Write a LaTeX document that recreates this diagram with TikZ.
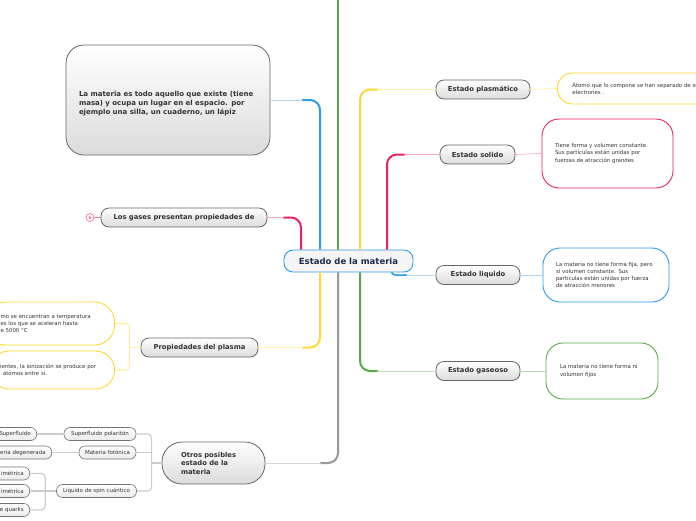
\documentclass[tikz,border=0pt]{standalone}
\usepackage{fontspec}
\setmainfont{DejaVu Sans}
\usetikzlibrary{calc}

\definecolor{cyellow}{HTML}{FFD731}
\definecolor{cpink}{HTML}{E8206A}
\definecolor{cblue}{HTML}{2D9BE6}
\definecolor{cgreen}{HTML}{55AA44}
\definecolor{cgray}{HTML}{999999}
\definecolor{navy}{HTML}{1B2A4E}
\definecolor{ink}{HTML}{333333}

\tikzset{
  topic/.style={draw=black!60, line width=0.8pt, rounded corners=8pt, top color=white, bottom color=black!14,
    text=ink, font=\bfseries\fontsize{6.8}{8}\selectfont, minimum height=19pt, inner sep=0pt},
  central/.style={draw=cblue, line width=0.9pt, rounded corners=9pt, fill=black!4, text=navy,
    font=\bfseries\fontsize{8.5}{10}\selectfont, minimum height=22pt, minimum width=129pt, inner sep=0pt},
  leaf/.style={draw=#1, line width=0.9pt, rounded corners=17pt, fill=white, text=ink,
    font=\fontsize{5.4}{7.3}\selectfont, align=left, inner ysep=0pt},
  tiny/.style={draw=black!55, line width=0.6pt, rounded corners=6pt, top color=white, bottom color=black!8,
    text=ink, font=\fontsize{5.5}{6.5}\selectfont, minimum height=13pt, inner sep=0pt},
  tinycut/.style={tiny, anchor=east, text width=50pt, align=right, inner xsep=6pt},
  rib/.style={draw=black!20, line width=1.2pt, rounded corners=4pt},
}

% thick coloured branch that fades into a thin line
\newcommand{\limb}[3]{%
  \coordinate (knee) at (#2 |- #3);
  \draw[#1, line width=2pt, rounded corners=10pt] (#2) -- (knee) -- ($(knee)!18pt!(#3)$);
  \draw[#1!40, line width=1pt] ($(knee)!17pt!(#3)$) -- (#3);}

\begin{document}
\begin{tikzpicture}[x=1pt, y=-1pt]
\useasboundingbox (0,0) rectangle (696,520);
\clip (0,0) rectangle (696,520);

% centre
\node[central] (cen) at (348.5,261) {Estado de la materia};

% right hand topics
\node[topic, minimum width=94pt] (plas) at (483,89.5) {Estado plasmático};
\node[topic, minimum width=75pt] (sol) at (477.5,154.5) {Estado solido};
\node[topic, minimum width=84pt] (liq) at (478,275) {Estado liquido};
\node[topic, minimum width=84pt] (gas) at (478,371) {Estado gaseoso};

\node[leaf=cyellow, anchor=west, text width=160pt, inner xsep=15pt, minimum height=31pt, rounded corners=15pt] (plasleaf) at (557,88.5)
  {Átomo que lo compone se han separado de sus\\electrones .};
\node[leaf=cpink, text width=105pt, inner xsep=13pt, minimum height=69pt] (solleaf) at (607.5,153.5)
  {Tiene forma y volumen constante.\\Sus partículas están unidas por\\fuerzas de atracción grandes};
\node[leaf=cblue, text width=100pt, inner xsep=13pt, minimum height=54pt] (liqleaf) at (606,275)
  {La materia no tiene forma fija, pero\\si volumen constante. Sus\\partículas están unidas por fuerza\\de atracción menores};
\node[leaf=cgreen, text width=84pt, inner xsep=14pt, minimum height=56pt] (gasleaf) at (602,371)
  {La materia no tiene forma ni\\volumen fijos};

% left hand topics
\node[topic, minimum height=110pt, rounded corners=18pt, text width=178pt, inner xsep=13pt, align=left,
  font=\bfseries\fontsize{7}{9}\selectfont] (def) at (168,100)
  {\rule{0pt}{13pt}La materia es todo aquello que existe (tiene\\masa) y ocupa un lugar en el espacio. por\\ejemplo una silla, un cuaderno, un lápiz};
\node[topic, minimum width=166pt] (gases) at (184,217.5) {Los gases presentan propiedades de};
\node[circle, draw=cpink!70, line width=0.6pt, minimum size=8pt, inner sep=0pt, text=cpink,
  font=\fontsize{4.5}{5}\selectfont] (cnt) at (90,217.5) {6};
\node[topic, minimum width=117pt] (props) at (199.5,347.5) {Propiedades del plasma};
\node[leaf=cyellow, anchor=east, text width=99pt, inner xsep=15pt, minimum height=43pt, rounded corners=20pt] (pl1) at (115,323.5)
  {mo se encuentran a temperatura\\es los que se aceleran hasta\\e 5000 °C};
\node[leaf=cyellow, anchor=east, text width=104.5pt, inner xsep=10pt, minimum height=38pt, rounded corners=19pt] (pl2) at (115,370)
  {ientes, la ionización se produce por\\\hspace*{3pt}átomos entre sí.};

\node[topic, minimum height=42pt, rounded corners=20pt, text width=65pt, inner xsep=19pt, align=left,
  font=\bfseries\fontsize{6.8}{8.5}\selectfont] (otros) at (213.5,463) {Otros posibles\\estado de la\\materia};
\node[tiny, minimum width=72pt] (pol) at (100,434) {Superfluido polaritón};
\node[tiny, minimum width=57pt] (foto) at (107.5,452.5) {Materia fotónica};
\node[tiny, minimum width=80pt] (spin) at (96.5,491) {Líquido de spin cuántico};
\node[tinycut] (sup) at (37,434) {Superfluido};
\node[tinycut] (deg) at (52,452.5) {teria degenerada};
\node[tinycut] (s1) at (30,473.5) {imétrica};
\node[tinycut] (s2) at (30,491) {imétrica};
\node[tinycut] (s3) at (30,510) {e quarks};

% roots of the main branches
\coordinate (rA) at ([xshift=-47.5pt]cen.north);
\coordinate (rB) at ([xshift=-28.5pt]cen.north);
\coordinate (rC) at ([xshift=-10.5pt]cen.north);
\coordinate (rD) at ([xshift=11.5pt]cen.north);
\coordinate (rE) at ([xshift=38.5pt]cen.north);
\coordinate (rF) at ([xshift=-28.5pt]cen.south);
\coordinate (rG) at ([xshift=-10.5pt]cen.south);
\coordinate (rH) at ([xshift=11.5pt]cen.south);
\coordinate (rI) at ([xshift=43pt]cen.south);
\coordinate (topEnd) at (rC |- 0,-5);
\coordinate (liqKnee) at ($(liq.west)+(-29,0)$);

\limb{cpink}{rA}{gases.east}
\limb{cblue}{rB}{def.east}
\limb{cyellow}{rD}{plas.west}
\limb{cpink}{rE}{sol.west}
\limb{cyellow}{rF}{props.east}
\limb{cgray}{rG}{otros.east}
\limb{cgreen}{rH}{gas.west}
\draw[cgreen, line width=2pt] (rC) -- (topEnd);
\draw[cblue, line width=1.6pt] (rI) .. controls +(2,4) and +(-8,0) .. (liqKnee);
\draw[cblue!40, line width=1pt] (liqKnee) -- (liq.west);

% topics to leaves
\draw[cyellow!50, line width=0.7pt] (plas.east) -- (plasleaf.west);
\draw[cpink!40, line width=0.7pt] (sol.east) -- (solleaf.west);
\draw[cblue!40, line width=0.7pt] (liq.east) -- (liqleaf.west);
\draw[cgreen!45, line width=0.7pt] (gas.east) -- (gasleaf.west);
\draw[cpink!60, line width=0.6pt] (cnt) -- (gases.west);

\coordinate (pj) at ($(props.west)+(-11,0)$);
\draw[cyellow!45, line width=1.2pt] (props.west) -- (pj);
\draw[cyellow!45, line width=1.2pt, rounded corners=4pt] (pl1.east) -| (pj) |- (pl2.east);

\coordinate (oj) at ($(otros.west)+(-10,0)$);
\draw[rib] (otros.west) -- (oj);
\draw[rib] (pol.east) -| (oj) |- (spin.east);
\draw[rib] (foto.east) -- (foto.east -| oj);
\draw[rib] (sup.east) -- (pol.west);
\draw[rib] (deg.east) -- (foto.west);
\coordinate (sj) at ($(spin.west)+(-11,0)$);
\draw[rib] (spin.west) -- (sj);
\draw[rib] (s1.east) -| (sj) |- (s3.east);
\draw[rib] (s2.east) -- (sj);
\end{tikzpicture}
\end{document}
